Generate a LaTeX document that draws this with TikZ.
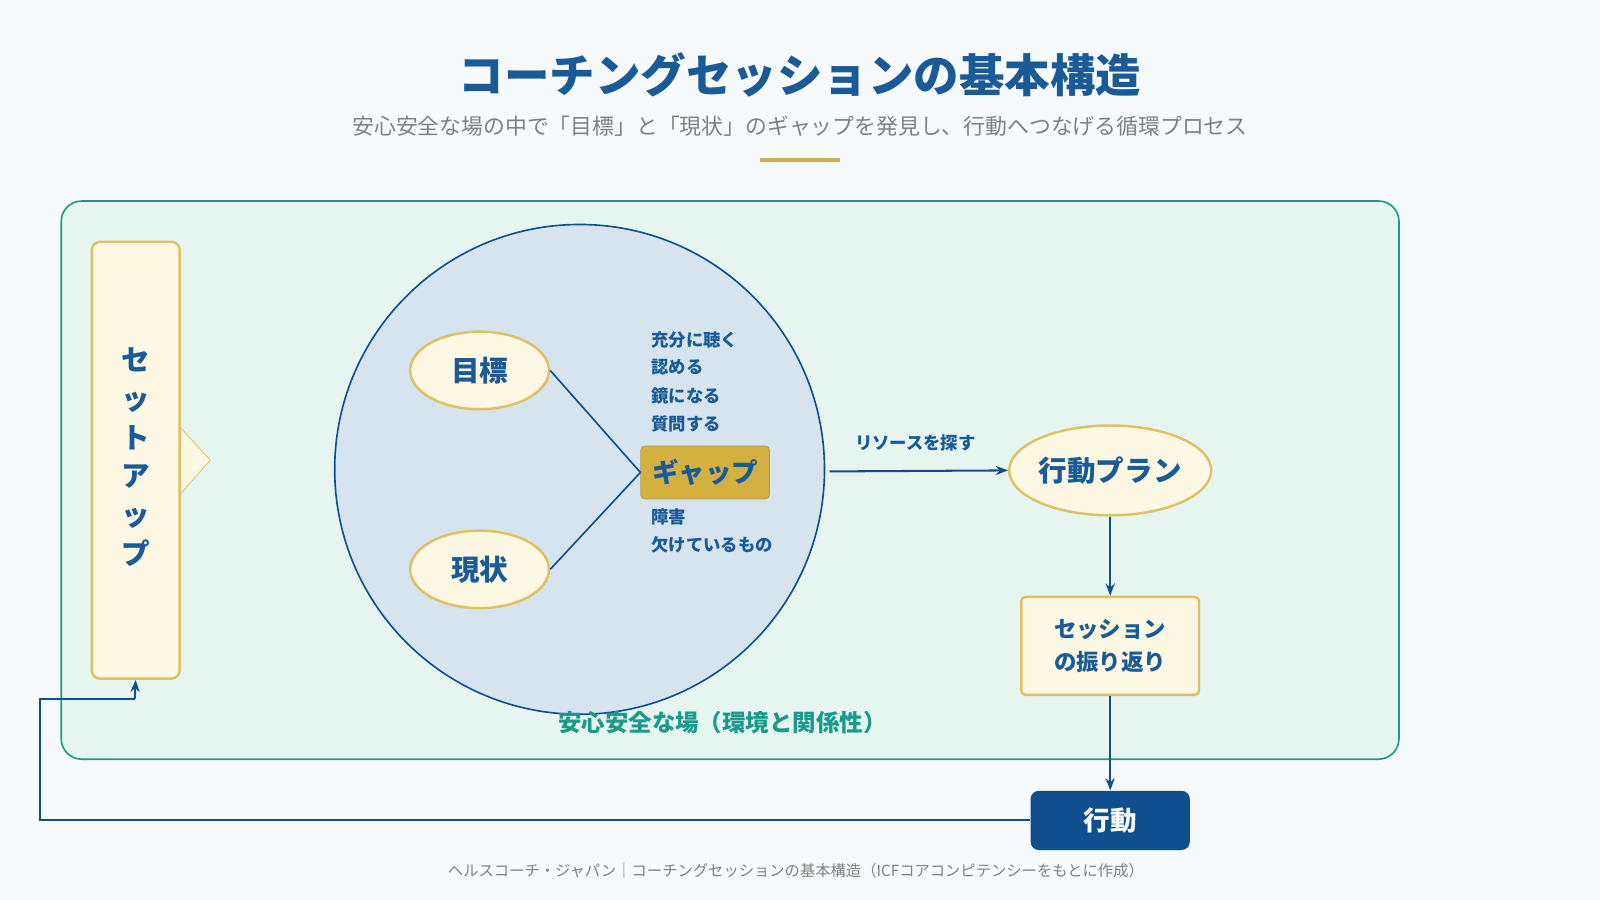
\documentclass[tikz,border=0pt]{standalone}
\usepackage{fontspec}
\setmainfont{Noto Sans CJK JP}
\usetikzlibrary{arrows.meta,shapes.geometric}
\definecolor{navy}{HTML}{1A5A96}
\definecolor{dblue}{HTML}{0F4F8F}
\definecolor{teal}{HTML}{1A9A8A}
\definecolor{mint}{HTML}{E6F5F0}
\definecolor{cream}{HTML}{FDF8E4}
\definecolor{gold}{HTML}{E0C060}
\definecolor{gapc}{HTML}{D4B040}
\definecolor{circ}{HTML}{D6E4F0}
\definecolor{bg}{HTML}{F7FAFC}
\begin{document}
\begin{tikzpicture}[x=0.5pt,y=-0.5pt,
 lbl/.style={text=navy,font=\bfseries\fontsize{8.5}{11}\selectfont,anchor=west,inner sep=0},
 ell/.style={ellipse,draw=gold,line width=1.2pt,fill=cream,text=navy,inner sep=0pt,font=\bfseries\fontsize{14}{16}\selectfont},
 arr/.style={-{Stealth[length=6pt]},draw=dblue,line width=1pt}]
\useasboundingbox[fill=bg] (0,0) rectangle (1568,882);
\node[text=navy,font=\bfseries\fontsize{22.3}{26}\selectfont] (t) at (784,73) {コーチングセッションの基本構造};
\node[text=gray,font=\fontsize{10.7}{12}\selectfont] (st) at (784,124) {安心安全な場の中で「目標」と「現状」のギャップを発見し、行動へつなげる循環プロセス};
\fill[gold!90!black] (745,155) rectangle (823,159);
\draw[teal,fill=mint,rounded corners=10pt,line width=0.8pt] (60,197) rectangle (1371,744);
\fill[cream] (176,418) -- (206,451) -- (176,485) -- cycle;
\draw[gold] (176,418) -- (206,451) -- (176,485);
\node[draw=gold,fill=cream,line width=1.2pt,rounded corners=4pt,minimum width=43pt,minimum height=214pt] (setup) at (133,451) {};
\node[text=navy,font=\bfseries\fontsize{14}{19}\selectfont,align=center] (st2) at (133,448) {セ\\ッ\\ト\\ア\\ッ\\プ};
\node[circle,draw=dblue,fill=circ,line width=0.8pt,minimum size=240pt] (c) at (568,460) {};
\node[ell,minimum width=68pt,minimum height=38pt] (goal) at (470,363) {目標};
\node[ell,minimum width=68pt,minimum height=38pt] (now) at (470,558) {現状};
\node[draw=gold!80!black,fill=gapc,rounded corners=2pt,minimum width=63pt,minimum height=26pt,text=navy,font=\bfseries\fontsize{13}{15}\selectfont] (gap) at (691,463) {ギャップ};
\draw[dblue,line width=0.8pt] (goal.east) -- (gap.west);
\draw[dblue,line width=0.8pt] (now.east) -- (gap.west);
\node[lbl] (l1) at (638,333) {充分に聴く};
\node[lbl] (l2) at (638,360) {認める};
\node[lbl] (l3) at (638,388) {鏡になる};
\node[lbl] (l4) at (638,415) {質問する};
\node[lbl] (l5) at (638,507) {障害};
\node[lbl] (l6) at (638,534) {欠けているもの};
\node[ell,minimum width=97pt,minimum height=44pt] (plan) at (1088,461) {行動プラン};
\coordinate (a1) at (813,462);
\draw[arr] (a1) -- (plan.west);
\node[text=navy,font=\bfseries\fontsize{8.5}{10}\selectfont] (res) at (897,434) {リソースを探す};
\node[draw=gold,fill=cream,line width=1.2pt,rounded corners=2pt,minimum width=87pt,minimum height=48pt,text=navy,align=center,font=\bfseries\fontsize{11}{16}\selectfont] (rev) at (1088,633) {セッション\\の振り返り};
\draw[arr] (plan.south) -- (rev.north);
\node[fill=dblue,rounded corners=4pt,minimum width=78pt,minimum height=29pt,text=white,font=\bfseries\fontsize{13}{15}\selectfont] (act) at (1088,804) {行動};
\draw[arr] (rev.south) -- (act.north);
\coordinate (f1) at (39,804);
\coordinate (f2) at (39,685);
\coordinate (f3) at (132,685);
\draw[arr,-] (act.west) -- (f1) -- (f2) -- (f3);
\draw[arr] (f3) -- (setup.south);
\node[text=teal,font=\bfseries\fontsize{11.5}{13}\selectfont] (safe) at (708,708) {安心安全な場（環境と関係性）};
\node[text=gray,font=\fontsize{7.5}{9}\selectfont] (foot) at (780,853) {ヘルスコーチ・ジャパン｜コーチングセッションの基本構造（ICFコアコンピテンシーをもとに作成）};
\end{tikzpicture}
\end{document}
